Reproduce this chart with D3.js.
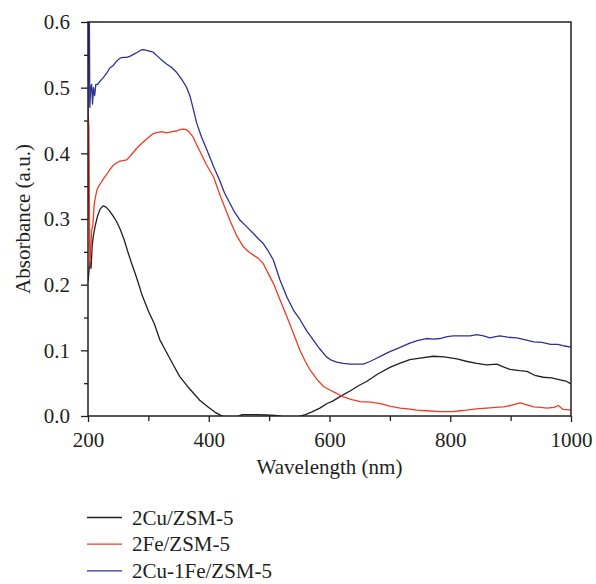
<!DOCTYPE html>
<html>
<head>
<meta charset="utf-8">
<script src="https://cdn.jsdelivr.net/npm/d3@7"></script>
</head>
<body style="margin:0">
<script>
// Series (wavelength in nm, absorbance in a.u.)
const cuWl = [200, 201, 203, 205, 207, 209, 212, 216, 220, 225, 230, 236, 242, 248, 254, 260, 266, 272, 280, 290, 300, 310, 319, 330, 340, 352, 365, 385, 400, 410, 420, 430, 437, 445, 455, 465, 480, 495, 510, 525, 535, 548, 560, 570, 584, 596, 606, 620, 634, 648, 662, 680, 700, 716, 733, 750, 772, 790, 811, 828, 844, 860, 877, 890, 899, 915, 927, 940, 954, 968, 982, 992, 1000];
const cuAbs = [0.205, 0.215, 0.235, 0.225, 0.26, 0.275, 0.29, 0.305, 0.315, 0.32, 0.318, 0.312, 0.304, 0.295, 0.283, 0.268, 0.25, 0.233, 0.212, 0.183, 0.16, 0.14, 0.116, 0.097, 0.08, 0.06, 0.045, 0.024, 0.013, 0.006, 0.001, -0.003, -0.004, -0.002, 0.002, 0.002, 0.002, 0.0015, 0.001, -0.001, -0.0015, -0.001, 0.002, 0.006, 0.012, 0.019, 0.023, 0.031, 0.038, 0.046, 0.053, 0.064, 0.074, 0.08, 0.086, 0.088, 0.091, 0.09, 0.087, 0.083, 0.08, 0.078, 0.079, 0.074, 0.071, 0.069, 0.068, 0.062, 0.059, 0.058, 0.055, 0.053, 0.049];

const feWl = [200, 200.5, 201.5, 203, 205, 206, 208, 210, 212, 215, 218, 222, 226, 231, 236, 242, 248, 253, 258, 264, 270, 280, 290, 300, 308, 315, 322, 330, 340, 347, 352, 358, 363, 368, 374, 380, 386, 396, 408, 420, 435, 446, 457, 466, 474, 482, 490, 498, 507, 518, 530, 541, 551, 560, 568, 580, 590, 606, 623, 637, 651, 668, 684, 700, 717, 730, 744, 760, 783, 805, 816, 827, 843, 860, 875, 888, 900, 916, 927, 938, 950, 960, 972, 979, 987, 1000];
const feAbs = [0.30, 0.455, 0.44, 0.228, 0.26, 0.283, 0.29, 0.32, 0.332, 0.345, 0.35, 0.356, 0.362, 0.368, 0.375, 0.382, 0.386, 0.388, 0.389, 0.39, 0.396, 0.407, 0.416, 0.424, 0.43, 0.432, 0.433, 0.431, 0.433, 0.434, 0.436, 0.437, 0.436, 0.432, 0.425, 0.413, 0.402, 0.383, 0.364, 0.333, 0.298, 0.275, 0.258, 0.25, 0.245, 0.24, 0.2325, 0.218, 0.202, 0.177, 0.15, 0.124, 0.10, 0.083, 0.07, 0.055, 0.045, 0.037, 0.029, 0.025, 0.022, 0.021, 0.019, 0.015, 0.012, 0.011, 0.009, 0.008, 0.0066, 0.0066, 0.008, 0.009, 0.011, 0.012, 0.013, 0.014, 0.016, 0.02, 0.017, 0.014, 0.013, 0.012, 0.013, 0.016, 0.01, 0.009];

const cufeWl = [200, 200.8, 202.2, 203, 204.5, 206, 207.5, 209, 211, 213, 216, 220, 225, 231, 236, 241, 247, 253, 258, 264, 270, 276, 282, 287, 292, 300, 308, 315, 322, 330, 338, 347, 355, 363, 369, 375, 380, 388, 397, 408, 418, 426, 435, 443, 452, 463, 474, 482, 490, 498, 507, 518, 530, 541, 551, 562, 573, 584, 595, 603, 612, 623, 634, 645, 656, 667, 678, 689, 700, 716, 733, 747, 761, 772, 783, 795, 805, 820, 833, 844, 855, 866, 875, 882, 895, 910, 925, 938, 952, 966, 978, 987, 1000];
const cufeAbs = [0.45, 0.62, 0.62, 0.47, 0.5, 0.505, 0.475, 0.50, 0.488, 0.505, 0.505, 0.51, 0.515, 0.522, 0.53, 0.533, 0.54, 0.545, 0.546, 0.546, 0.548, 0.551, 0.554, 0.557, 0.558, 0.556, 0.554, 0.548, 0.542, 0.536, 0.531, 0.523, 0.513, 0.501, 0.487, 0.465, 0.446, 0.425, 0.405, 0.38, 0.359, 0.34, 0.324, 0.31, 0.298, 0.288, 0.278, 0.27, 0.263, 0.252, 0.2375, 0.207, 0.18, 0.16, 0.147, 0.13, 0.116, 0.102, 0.09, 0.085, 0.082, 0.08, 0.079, 0.079, 0.079, 0.083, 0.088, 0.093, 0.098, 0.104, 0.111, 0.115, 0.118, 0.117, 0.118, 0.121, 0.122, 0.122, 0.122, 0.124, 0.122, 0.119, 0.121, 0.122, 0.12, 0.119, 0.116, 0.113, 0.112, 0.109, 0.109, 0.107, 0.105];

const seriesNames = ['2Cu/ZSM-5', '2Fe/ZSM-5', '2Cu-1Fe/ZSM-5'];
const seriesColors = ['#231f20', '#ee3b24', '#2e3192'];
const xTicks = [200, 400, 600, 800, 1000];
const yTicks = [0.0, 0.1, 0.2, 0.3, 0.4, 0.5, 0.6];

const series = [
  { name: seriesNames[0], color: seriesColors[0], pts: cuWl.map((w, i) => [w, cuAbs[i]]) },
  { name: seriesNames[1], color: seriesColors[1], pts: feWl.map((w, i) => [w, feAbs[i]]) },
  { name: seriesNames[2], color: seriesColors[2], pts: cufeWl.map((w, i) => [w, cufeAbs[i]]) }
];

const w = 596, h = 584;
const margin = { top: 22, right: 25, bottom: 168, left: 88 };
const ink = '#231f20';

const x = d3.scaleLinear().domain([200, 1000]).range([margin.left, w - margin.right]);
const y = d3.scaleLinear().domain([0, 0.6]).range([h - margin.bottom, margin.top]);

const svg = d3.select('body').append('svg')
  .attr('width', w)
  .attr('height', h)
  .attr('font-family', 'Liberation Serif')
  .attr('font-size', 21);

svg.append('clipPath')
  .attr('id', 'plot-area')
  .append('rect')
  .attr('x', margin.left)
  .attr('y', margin.top)
  .attr('width', w - margin.left - margin.right)
  .attr('height', h - margin.top - margin.bottom);

// minor ticks first, then majors with labels
svg.append('g')
  .attr('transform', `translate(0, ${y(0)})`)
  .call(d3.axisBottom(x).tickValues(d3.range(300, 1000, 200)).tickSize(5).tickFormat(''))
  .call(g => g.select('.domain').remove());

svg.append('g')
  .attr('transform', `translate(0, ${y(0)})`)
  .call(d3.axisBottom(x).tickValues(xTicks).tickSize(6).tickPadding(10).tickFormat(d3.format('d')))
  .call(g => g.select('.domain').remove());

svg.append('g')
  .attr('transform', `translate(${x(200)}, 0)`)
  .call(d3.axisLeft(y).tickValues(d3.range(0.05, 0.6, 0.1)).tickSize(4).tickFormat(''))
  .call(g => g.select('.domain').remove());

svg.append('g')
  .attr('transform', `translate(${x(200)}, 0)`)
  .call(d3.axisLeft(y).tickValues(yTicks).tickSize(7).tickPadding(11).tickFormat(d3.format('.1f')))
  .call(g => g.select('.domain').remove());

// d3 axes set their own sans-serif font; take the svg's instead
svg.selectAll('g').attr('font-family', 'Liberation Serif').attr('font-size', 21);

svg.selectAll('.tick line').attr('stroke', ink).attr('stroke-width', 1.3);
svg.selectAll('.tick text').attr('fill', ink);

// data lines
const line = d3.line()
  .x(d => x(d[0]))
  .y(d => y(d[1]));

svg.append('g')
  .attr('clip-path', 'url(#plot-area)')
  .selectAll('path')
  .data(series)
  .join('path')
  .attr('fill', 'none')
  .attr('stroke', d => d.color)
  .attr('stroke-width', 1.3)
  .attr('stroke-linejoin', 'round')
  .attr('d', d => line(d.pts));

// frame
svg.append('rect')
  .attr('x', margin.left)
  .attr('y', margin.top)
  .attr('width', w - margin.left - margin.right)
  .attr('height', h - margin.top - margin.bottom)
  .attr('fill', 'none')
  .attr('stroke', ink)
  .attr('stroke-width', 1.5);

// axis titles
svg.append('text')
  .attr('x', (x(200) + x(1000)) / 2)
  .attr('y', 474)
  .attr('text-anchor', 'middle')
  .attr('fill', ink)
  .text('Wavelength (nm)');

svg.append('text')
  .attr('transform', `translate(30, ${(y(0) + y(0.6)) / 2}) rotate(-90)`)
  .attr('text-anchor', 'middle')
  .attr('fill', ink)
  .text('Absorbance (a.u.)');

// legend
const legend = svg.append('g')
  .selectAll('g')
  .data(series)
  .join('g')
  .attr('transform', (d, i) => `translate(87, ${517.5 + i * 26.7})`);

legend.append('line')
  .attr('x1', 0)
  .attr('x2', 35)
  .attr('stroke', d => d.color)
  .attr('stroke-width', 1.3);

legend.append('text')
  .attr('x', 45)
  .attr('y', 7)
  .attr('fill', ink)
  .text(d => d.name);
</script>
</body>
</html>
